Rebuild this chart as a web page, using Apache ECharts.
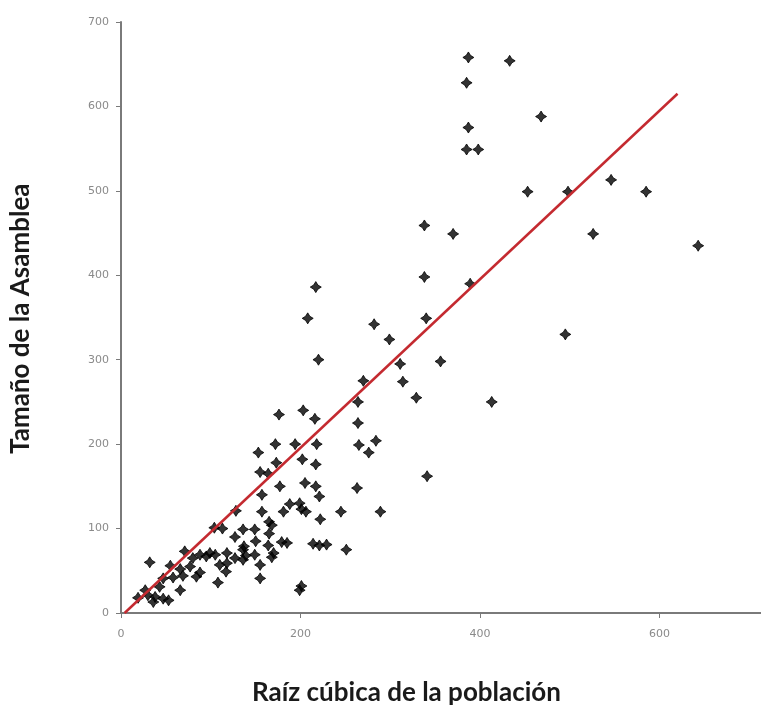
<!DOCTYPE html>
<html>
<head>
<meta charset="utf-8">
<script src="https://cdn.jsdelivr.net/npm/echarts@6/dist/echarts.min.js"></script>
<style>
    html, body { margin: 0; padding: 0; background: #fff; }
    #chart { width: 761px; height: 708px; }
</style>
</head>
<body>
<div id="chart"></div>
<script>
// cube root of population (x) against assembly size (y)
const popRoot = [
    19, 27, 30, 36, 38, 43, 47, 47, 53, 58, 66, 66, 69, 55, 32, 71, 77, 80, 84, 88,
    88, 95, 99, 105, 108, 110, 117, 118, 113, 104, 127, 128, 127, 118, 136, 137, 136, 139, 136, 149,
    149, 150, 155, 155, 157, 157, 153, 155, 164, 173, 172, 176, 177, 164, 165, 168, 165, 170, 168, 179,
    185, 181, 188, 199, 201, 206, 194, 202, 203, 216, 205, 217, 221, 222, 214, 221, 229, 217, 218, 199,
    201, 208, 217, 220, 245, 251, 263, 264, 264, 265, 270, 276, 284, 282, 289, 299, 311, 314, 329, 338,
    340, 338, 341, 356, 370, 385, 387, 387, 385, 398, 389, 413, 433, 453, 468, 495, 498, 526, 546, 585,
    643
];
const assembly = [
    18, 27, 21, 13, 19, 31, 17, 41, 15, 42, 27, 52, 44, 56, 60, 73, 55, 65, 43, 48,
    69, 67, 71, 69, 36, 57, 49, 59, 100, 101, 90, 121, 65, 71, 99, 79, 75, 68, 63, 99,
    69, 85, 57, 41, 120, 140, 190, 167, 165, 178, 200, 235, 150, 80, 108, 104, 94, 71, 66, 84,
    83, 120, 129, 130, 123, 120, 200, 182, 240, 230, 154, 150, 138, 111, 82, 80, 81, 176, 200, 27,
    32, 349, 386, 300, 120, 75, 148, 250, 225, 199, 275, 190, 204, 342, 120, 324, 295, 274, 255, 398,
    349, 459, 162, 298, 449, 628, 658, 575, 549, 549, 390, 250, 654, 499, 588, 330, 499, 449, 513, 499,
    435
];
// fitted line end points
const trendX = [4, 620];
const trendY = [0, 615];

const xTicks = [0, 200, 400, 600];
const yTicks = [0, 100, 200, 300, 400, 500, 600, 700];

const chart = echarts.init(document.getElementById("chart"));

const points = popRoot.map((x, i) => [x, assembly[i]]);
const trend = trendX.map((x, i) => [x, trendY[i]]);

const axisGrey = "#7a7a7a";
const labelStyle = {
    color: "#8a8a8a",
    fontSize: 11,
    fontFamily: "DejaVu Sans"
};
const titleFont = "bold 26px Lato";

const options = {
    backgroundColor: "#ffffff",
    animation: false,
    grid: {
        left: 121,
        right: 0,
        top: 22,
        bottom: 95
    },
    xAxis: {
        type: "value",
        min: 0,
        max: 713,
        interval: 200,
        splitLine: { show: false },
        axisLine: { show: true, lineStyle: { color: axisGrey, width: 2 } },
        axisTick: { show: true, length: 5, lineStyle: { color: axisGrey } },
        axisLabel: {
            ...labelStyle,
            margin: 16,
            showMaxLabel: false,
            formatter: (v) => (xTicks.includes(v) ? String(v) : "")
        }
    },
    yAxis: {
        type: "value",
        min: 0,
        max: 700,
        interval: 100,
        splitLine: { show: false },
        axisLine: { show: true, lineStyle: { color: axisGrey, width: 2 } },
        axisTick: { show: true, length: 5, lineStyle: { color: axisGrey } },
        axisLabel: {
            ...labelStyle,
            margin: 12,
            formatter: (v) => (yTicks.includes(v) ? String(v) : "")
        }
    },
    graphic: [
        {
            type: "text",
            left: 252,
            top: 680,
            style: {
                text: "Raíz cúbica de la población",
                font: titleFont,
                fill: "#1a1a1a"
            }
        },
        {
            type: "text",
            rotation: Math.PI / 2,
            x: 8,
            y: 454,
            style: {
                text: "Tamaño de la Asamblea",
                font: titleFont,
                fill: "#1a1a1a",
                textVerticalAlign: "top"
            }
        }
    ],
    series: [
        {
            type: "scatter",
            data: points,
            symbol: "path://M0,-1 L0.38,-0.38 L1,0 L0.38,0.38 L0,1 L-0.38,0.38 L-1,0 L-0.38,-0.38 Z",
            symbolSize: 11,
            itemStyle: { color: "#000000", borderColor: "#000000", borderWidth: 1 },
            z: 2
        },
        {
            type: "line",
            data: trend,
            showSymbol: false,
            lineStyle: { color: "#c42a30", width: 2.5 },
            z: 3
        }
    ]
};

chart.setOption(options);
</script>
</body>
</html>
